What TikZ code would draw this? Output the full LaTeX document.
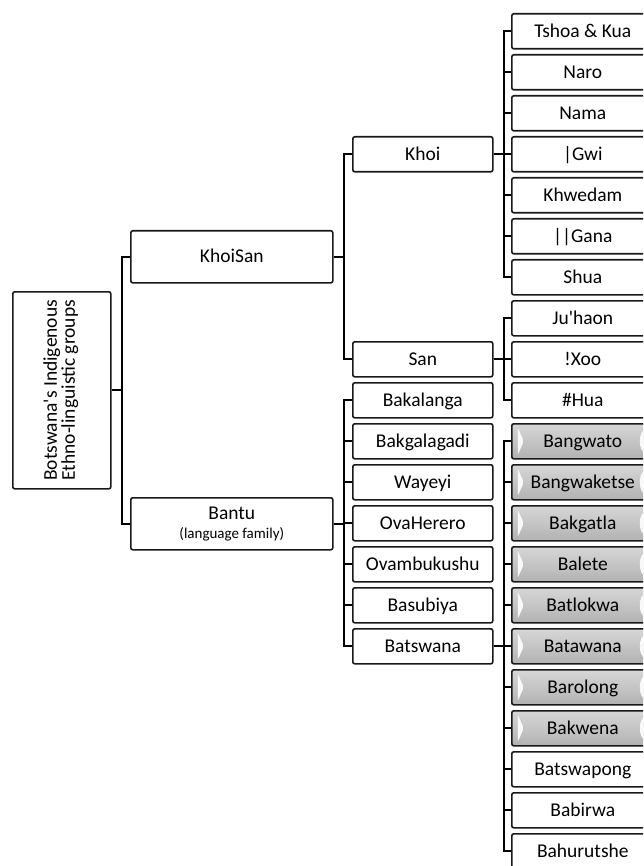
\documentclass[tikz,border=0pt]{standalone}
\usepackage{fontspec}
\setmainfont{Carlito}
\begin{document}
\begin{tikzpicture}[x=1pt,y=-1pt,
  box/.style={draw=black!90, line width=1.6pt, rounded corners=2pt, fill=white,
    inner sep=0pt, anchor=north west, font=\fontsize{19.5}{20}\selectfont},
  one/.style={text height=15pt, text depth=3pt},
  leaf/.style={box, one, minimum width=142pt, minimum height=35pt},
  mid/.style={box, one, minimum width=140pt, minimum height=35pt},
  gleaf/.style={leaf, top color=black!16, bottom color=black!30,
    path picture={
      \fill[white, opacity=0.9] ([xshift=6pt,yshift=-4pt]path picture bounding box.north west)
        -- ([xshift=12pt]path picture bounding box.west)
        -- ([xshift=6pt,yshift=4pt]path picture bounding box.south west) -- cycle;
      \fill[white, opacity=0.9] ([xshift=-9pt]path picture bounding box.east)
        ellipse [x radius=5pt, y radius=11pt];
    }},
  link/.style={draw=black, line width=2pt}]
\useasboundingbox (0,0) rectangle (643,866);
\clip (0,0) rectangle (643,866);

% root
\node[box, minimum width=98pt, minimum height=197pt] (root) at (12,291)
  {\rotatebox{90}{\begin{tabular}{@{}c@{}}Botswana\textquotesingle s Indigenous\\[-2pt]Ethno-linguistic groups\end{tabular}}};

% level 1
\node[box, one, minimum width=202pt, minimum height=52pt] (khoisan) at (130,230) {KhoiSan};
\node[box, minimum width=202pt, minimum height=52pt, align=center] (bantu) at (130,497)
  {Bantu\\[-1pt]{\fontsize{15}{16}\selectfont (language family)}};

% level 2
\node[mid] (khoi) at (352,136) {Khoi};
\node[mid] (san) at (352,341) {San};
\foreach \i/\t in {9/Bakalanga,10/Bakgalagadi,11/Wayeyi,12/OvaHerero,13/Ovambukushu,14/Basubiya,15/Batswana}
  \node[mid] (m\i) at (352,13+41*\i) {\t};

% level 3
\foreach \i/\t in {0/Tshoa \& Kua,1/Naro,2/Nama,3/\textbar Gwi,4/Khwedam,5/\textbar\textbar Gana,6/Shua,
  7/Ju\textquotesingle haon,8/!Xoo,9/\#Hua,18/Batswapong,19/Babirwa,20/Bahurutshe}
  \node[leaf] (r\i) at (511,13+41*\i) {\t};
\foreach \i/\t in {10/Bangwato,11/Bangwaketse,12/Bakgatla,13/Balete,14/Batlokwa,15/Batawana,16/Barolong,17/Bakwena}
  \node[gleaf] (r\i) at (511,13+41*\i) {\t};

% connectors
\draw[link] (root.east) -- ++(10,0) |- (khoisan.west);
\draw[link] (root.east) -- ++(10,0) |- (bantu.west);
\draw[link] (khoisan.east) -- ++(10,0) |- (khoi.west);
\draw[link] (khoisan.east) -- ++(10,0) |- (san.west);
\foreach \i in {9,...,15}
  \draw[link] (bantu.east) -- ++(10,0) |- (m\i.west);
\foreach \i in {0,...,6}
  \draw[link] (khoi.east) -- ++(10,0) |- (r\i.west);
\foreach \i in {7,8,9}
  \draw[link] (san.east) -- ++(10,0) |- (r\i.west);
\foreach \i in {10,...,20}
  \draw[link] (m15.east) -- ++(10,0) |- (r\i.west);
\end{tikzpicture}
\end{document}
